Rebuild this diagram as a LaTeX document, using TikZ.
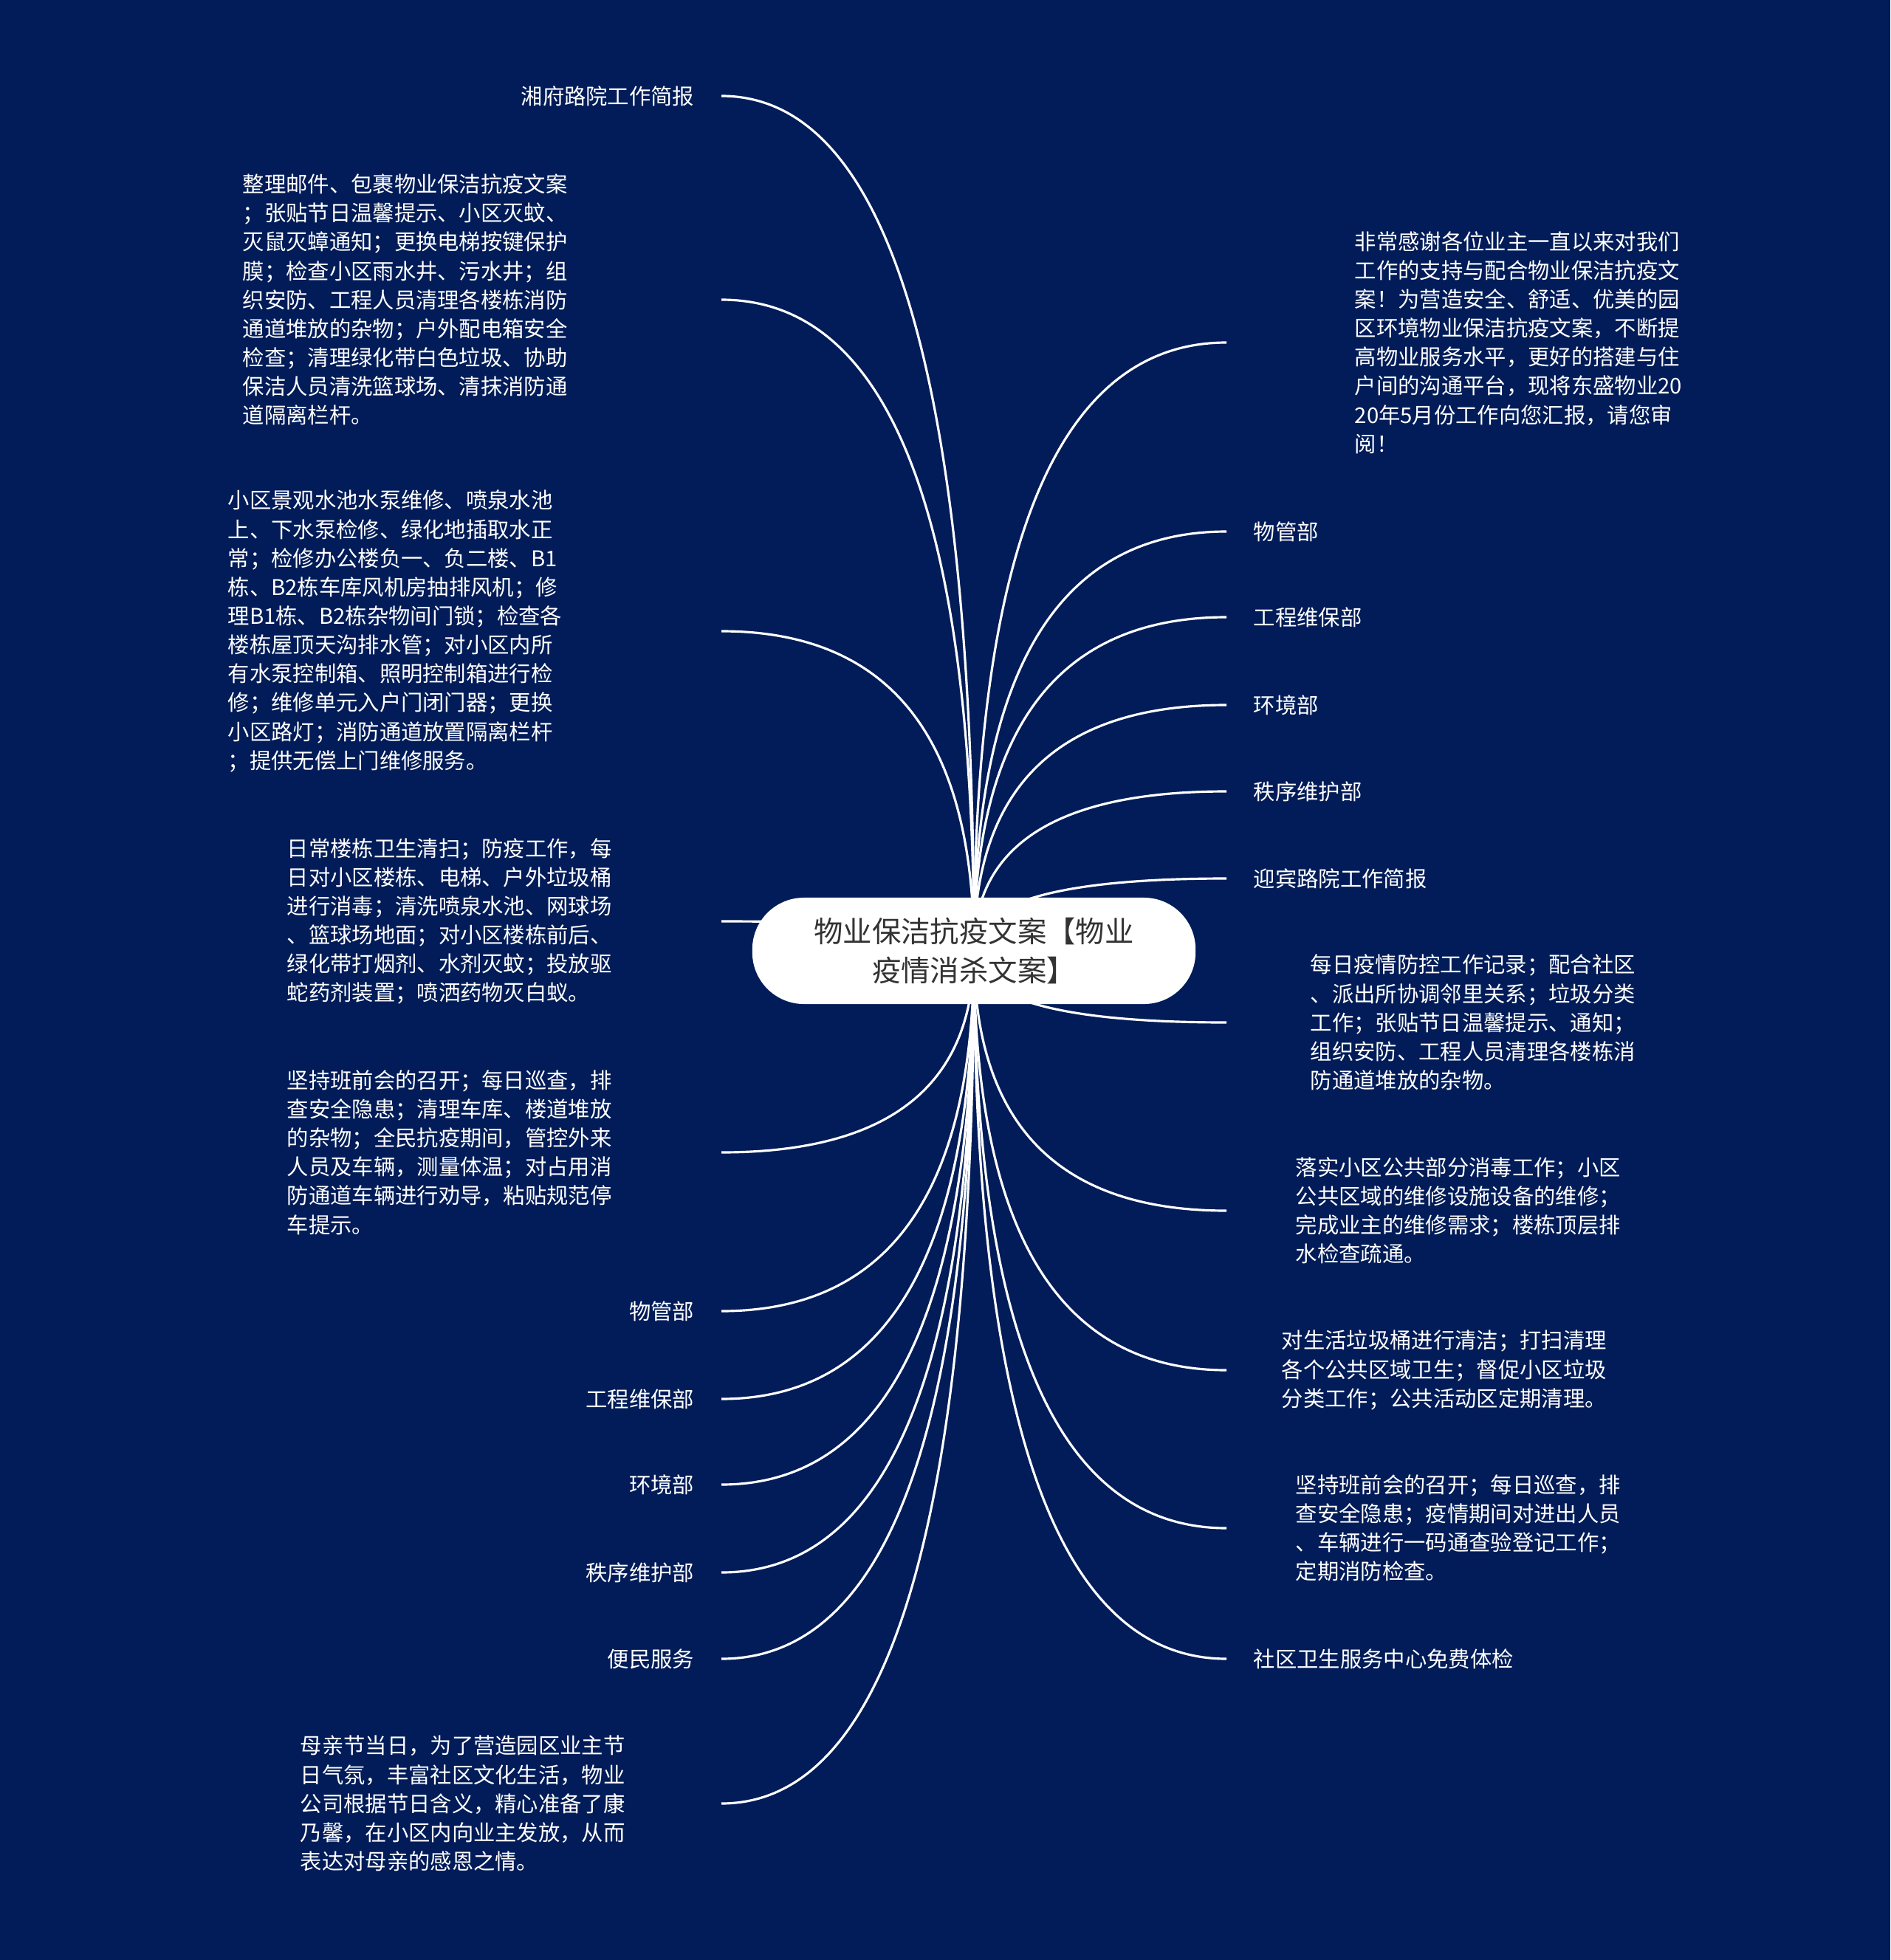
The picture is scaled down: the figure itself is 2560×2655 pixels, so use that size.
\documentclass[tikz,border=0pt]{standalone}
\usepackage{fontspec}
\setmainfont{Noto Sans CJK SC}
\usetikzlibrary{calc}
\definecolor{navybg}{RGB}{1,28,88}
\definecolor{rootgray}{RGB}{51,51,51}

\begin{document}
\begin{tikzpicture}[x=0.01cm,y=-0.01cm]
		\tikzset{leaf/.style={inner sep=0pt,text=white,align=left,font=\fontsize{8.34pt}{11.13pt}\selectfont},
			link/.style={draw=white,line width=0.9pt},
			rootbox/.style={fill=white,rounded corners=0.7cm,minimum width=6cm,minimum height=1.44cm,inner sep=0pt,align=center,text=rootgray,font=\fontsize{11.2pt}{14.9pt}\selectfont}};
		\fill[navybg] (0,0) rectangle (2560,2655);
		\useasboundingbox (0,0) rectangle (2560,2655);
		
		% left side
		\node[leaf,anchor=east] (L1) at (941,130) {湘府路院工作简报};
		\node[leaf,anchor=west] (L2) at (328,406) {整理邮件、包裹物业保洁抗疫文案\\；张贴节日温馨提示、小区灭蚊、\\灭鼠灭蟑通知；更换电梯按键保护\\膜；检查小区雨水井、污水井；组\\织安防、工程人员清理各楼栋消防\\通道堆放的杂物；户外配电箱安全\\检查；清理绿化带白色垃圾、协助\\保洁人员清洗篮球场、清抹消防通\\道隔离栏杆。};
		\node[leaf,anchor=west] (L3) at (308,855) {小区景观水池水泵维修、喷泉水池\\上、下水泵检修、绿化地插取水正\\常；检修办公楼负一、负二楼、B1\\栋、B2栋车库风机房抽排风机；修\\理B1栋、B2栋杂物间门锁；检查各\\楼栋屋顶天沟排水管；对小区内所\\有水泵控制箱、照明控制箱进行检\\修；维修单元入户门闭门器；更换\\小区路灯；消防通道放置隔离栏杆\\；提供无偿上门维修服务。};
		\node[leaf,anchor=west] (L4) at (388,1248) {日常楼栋卫生清扫；防疫工作，每\\日对小区楼栋、电梯、户外垃圾桶\\进行消毒；清洗喷泉水池、网球场\\、篮球场地面；对小区楼栋前后、\\绿化带打烟剂、水剂灭蚊；投放驱\\蛇药剂装置；喷洒药物灭白蚁。};
		\node[leaf,anchor=west] (L5) at (388,1561) {坚持班前会的召开；每日巡查，排\\查安全隐患；清理车库、楼道堆放\\的杂物；全民抗疫期间，管控外来\\人员及车辆，测量体温；对占用消\\防通道车辆进行劝导，粘贴规范停\\车提示。};
		\node[leaf,anchor=east] (L6) at (941,1776) {物管部};
		\node[leaf,anchor=east] (L7) at (941,1895) {工程维保部};
		\node[leaf,anchor=east] (L8) at (941,2011) {环境部};
		\node[leaf,anchor=east] (L9) at (941,2130) {秩序维护部};
		\node[leaf,anchor=east] (L10) at (941,2247) {便民服务};
		\node[leaf,anchor=west] (L11) at (406,2443) {母亲节当日，为了营造园区业主节\\日气氛，丰富社区文化生活，物业\\公司根据节日含义，精心准备了康\\乃馨，在小区内向业主发放，从而\\表达对母亲的感恩之情。};
		
		% right side
		\node[leaf,anchor=west] (R1) at (1834,464) {非常感谢各位业主一直以来对我们\\工作的支持与配合物业保洁抗疫文\\案！为营造安全、舒适、优美的园\\区环境物业保洁抗疫文案，不断提\\高物业服务水平，更好的搭建与住\\户间的沟通平台，现将东盛物业20\\20年5月份工作向您汇报，请您审\\阅！};
		\node[leaf,anchor=west] (R2) at (1697,720) {物管部};
		\node[leaf,anchor=west] (R3) at (1697,836) {工程维保部};
		\node[leaf,anchor=west] (R4) at (1697,955) {环境部};
		\node[leaf,anchor=west] (R5) at (1697,1072) {秩序维护部};
		\node[leaf,anchor=west] (R6) at (1697,1190) {迎宾路院工作简报};
		\node[leaf,anchor=west] (R7) at (1774,1385) {每日疫情防控工作记录；配合社区\\、派出所协调邻里关系；垃圾分类\\工作；张贴节日温馨提示、通知；\\组织安防、工程人员清理各楼栋消\\防通道堆放的杂物。};
		\node[leaf,anchor=west] (R8) at (1754,1640) {落实小区公共部分消毒工作；小区\\公共区域的维修设施设备的维修；\\完成业主的维修需求；楼栋顶层排\\水检查疏通。};
		\node[leaf,anchor=west] (R9) at (1735,1856) {对生活垃圾桶进行清洁；打扫清理\\各个公共区域卫生；督促小区垃圾\\分类工作；公共活动区定期清理。};
		\node[leaf,anchor=west] (R10) at (1754,2070) {坚持班前会的召开；每日巡查，排\\查安全隐患；疫情期间对进出人员\\、车辆进行一码通查验登记工作；\\定期消防检查。};
		\node[leaf,anchor=west] (R11) at (1697,2247) {社区卫生服务中心免费体检};
		
		\coordinate (rootc) at (1319,1288);
		\coordinate (lend) at (977,0);
		\coordinate (rend) at (1661,0);
		
		\foreach \n in {L1,L2,L3,L4,L5,L6,L7,L8,L9,L10,L11}
			\draw[link] (rootc) .. controls ($(rootc)!0.667!(rootc|-\n.center)$) and ($(lend|-\n.center)!0.667!(rootc|-\n.center)$) .. (lend|-\n.center);
		\foreach \n in {R1,R2,R3,R4,R5,R6,R7,R8,R9,R10,R11}
			\draw[link] (rootc) .. controls ($(rootc)!0.667!(rootc|-\n.center)$) and ($(rend|-\n.center)!0.667!(rootc|-\n.center)$) .. (rend|-\n.center);
		
		\node[rootbox] (root) at (rootc) {物业保洁抗疫文案【物业\\疫情消杀文案】};
	\end{tikzpicture}
\end{document}
